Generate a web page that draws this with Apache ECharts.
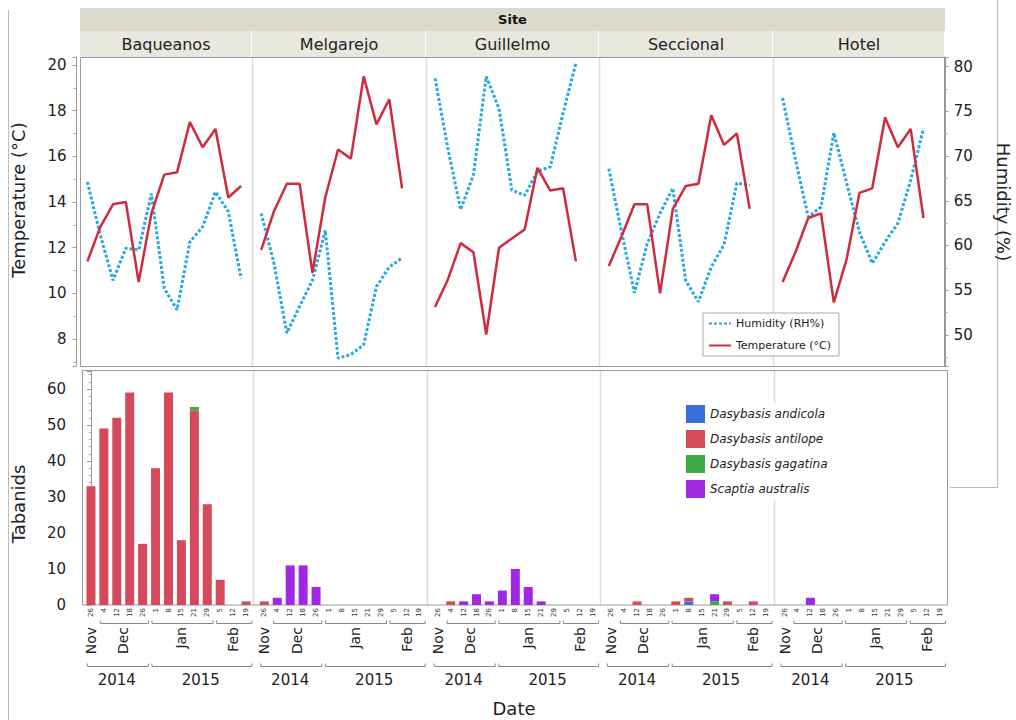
<!DOCTYPE html>
<html>
<head>
<meta charset="utf-8">
<title>Tabanids by site</title>
<script src="https://cdn.jsdelivr.net/npm/echarts@6.0.0/dist/echarts.min.js"></script>
<style>
  html, body { margin: 0; padding: 0; background: #fff; }
  #main { width: 1016px; height: 720px; }
</style>
</head>
<body>
<div id="main"></div>
<script>
/* 数据 */
var sites = ['Baqueanos', 'Melgarejo', 'Guillelmo', 'Seccional', 'Hotel'];
var dates = ['Nov 26', 'Dec 4', 'Dec 12', 'Dec 18', 'Dec 26', 'Jan 1', 'Jan 8', 'Jan 15', 'Jan 21', 'Jan 29', 'Feb 5', 'Feb 12', 'Feb 19'];
var monthNames = ['Nov', 'Dec', 'Jan', 'Feb'];
var monthFrom = [0, 1, 5, 10];
var monthTo = [0, 4, 9, 12];
var yearNames = ['2014', '2015'];
var yearFrom = [0, 5];
var yearTo = [4, 12];

var speciesNames = ['Dasybasis andicola', 'Dasybasis antilope', 'Dasybasis gagatina', 'Scaptia australis'];
var speciesColors = ['#3b6fdc', '#d44a5a', '#3dab44', '#a028e0'];

// temperature (°C), one row per site
var temperature = [
  [11.4, 12.9, 13.9, 14.0, 10.5, 13.5, 15.2, 15.3, 17.5, 16.4, 17.2, 14.2, 14.7],
  [11.9, 13.6, 14.8, 14.8, 10.9, 14.2, 16.3, 15.9, 19.5, 17.4, 18.5, 14.6],
  [9.4, 10.6, 12.2, 11.8, 8.2, 12.0, 12.4, 12.8, 15.5, 14.5, 14.6, 11.4],
  [11.2, 12.5, 13.9, 13.9, 10.0, 13.7, 14.7, 14.8, 17.8, 16.5, 17.0, 13.7],
  [10.5, 11.8, 13.3, 13.5, 9.6, 11.5, 14.4, 14.6, 17.7, 16.4, 17.2, 13.3]
];
// humidity (RH%)
var humidity = [
  [67.1, 61.2, 56.1, 59.7, 59.5, 65.8, 55.2, 52.8, 60.4, 62.1, 66.0, 63.8, 56.3],
  [63.6, 58.0, 50.2, 53.2, 56.1, 61.7, 47.4, 47.8, 48.9, 55.4, 57.6, 58.6],
  [78.7, 70.9, 64.0, 67.9, 78.9, 75.3, 66.2, 65.6, 68.3, 68.8, 74.8, 80.4],
  [68.6, 61.5, 54.7, 60.2, 63.6, 66.4, 56.1, 53.7, 57.6, 60.1, 67.0, 66.7],
  [76.5, 69.6, 63.2, 64.3, 72.6, 67.0, 61.5, 58.0, 60.4, 62.5, 67.3, 73.1]
];
// tabanid counts per species, one row per site
var andicola = [
  [0, 0, 0, 0, 0, 0, 0, 0, 0, 0, 0, 0, 0],
  [0, 0, 0, 0, 0, 0, 0, 0, 0, 0, 0, 0, 0],
  [0, 0, 0, 0, 0, 0, 0, 0, 0, 0, 0, 0, 0],
  [0, 0, 0, 0, 0, 0, 1, 0, 0, 0, 0, 0, 0],
  [0, 0, 0, 0, 0, 0, 0, 0, 0, 0, 0, 0, 0]
];
var antilope = [
  [33, 49, 52, 59, 17, 38, 59, 18, 54, 28, 7, 0, 1],
  [1, 0, 0, 0, 0, 0, 0, 0, 0, 0, 0, 0, 0],
  [0, 1, 0, 0, 0, 0, 0, 0, 0, 0, 0, 0, 0],
  [0, 0, 1, 0, 0, 1, 1, 0, 0, 1, 0, 1, 0],
  [0, 0, 0, 0, 0, 0, 0, 0, 0, 0, 0, 0, 0]
];
var gagatina = [
  [0, 0, 0, 0, 0, 0, 0, 0, 1, 0, 0, 0, 0],
  [0, 0, 0, 0, 0, 0, 0, 0, 0, 0, 0, 0, 0],
  [0, 0, 0, 0, 0, 0, 0, 0, 0, 0, 0, 0, 0],
  [0, 0, 0, 0, 0, 0, 0, 0, 1, 0, 0, 0, 0],
  [0, 0, 0, 0, 0, 0, 0, 0, 0, 0, 0, 0, 0]
];
var australis = [
  [0, 0, 0, 0, 0, 0, 0, 0, 0, 0, 0, 0, 0],
  [0, 2, 11, 11, 5, 0, 0, 0, 0, 0, 0, 0, 0],
  [0, 0, 1, 3, 1, 4, 10, 5, 1, 0, 0, 0, 0],
  [0, 0, 0, 0, 0, 0, 0, 0, 2, 0, 0, 0, 0],
  [0, 0, 2, 0, 0, 0, 0, 0, 0, 0, 0, 0, 0]
];
var speciesData = [andicola, antilope, gagatina, australis];

/* 布局 */
var panelEdges = [80, 252, 426, 599, 773, 945];
var topY = 57, topH = 309;
var botY = 371, botH = 234;
var font = 'DejaVu Sans';

var myEchart = echarts.init(document.getElementById('main'), null, { renderer: 'svg' });

var grids = [], xAxes = [], yAxes = [], series = [];

// 括号：月份和年份分组
var bracketData = [];
monthNames.forEach(function (m, k) {
  if (monthTo[k] > monthFrom[k]) bracketData.push([monthFrom[k], monthTo[k], 0]);
});
yearNames.forEach(function (y, k) {
  bracketData.push([yearFrom[k], yearTo[k], 1]);
});
var monthCenters = monthNames.map(function (m, k) { return (monthFrom[k] + monthTo[k]) / 2; });
var yearCenters = yearNames.map(function (y, k) { return (yearFrom[k] + yearTo[k]) / 2; });

sites.forEach(function (site, i) {
  /* 上面：温度和湿度 */
  var gTop = grids.length;
  grids.push({ left: 81 + i * 173.8, top: topY, width: 166.5, height: topH });
  var xTop = xAxes.length;
  xAxes.push({ type: 'category', gridIndex: gTop, data: dates, boundaryGap: true, show: false });
  var yT = yAxes.length;
  yAxes.push({
    type: 'value', gridIndex: gTop, position: 'left', offset: 4.5,
    min: 6.82, max: 20.35, splitNumber: 7, show: i === 0,
    axisLine: { show: true, lineStyle: { color: '#999' } },
    axisTick: { show: true, length: 4, lineStyle: { color: '#999' } },
    minorTick: { show: true, splitNumber: 2, length: 3, lineStyle: { color: '#aaa' } },
    axisLabel: {
      fontSize: 15, color: '#222', margin: 10, fontFamily: font,
      showMinLabel: false, showMaxLabel: false,
      formatter: function (v) { return v % 2 === 0 ? v : ''; }
    },
    splitLine: { show: false }
  });
  var yH = yAxes.length;
  yAxes.push({
    type: 'value', gridIndex: gTop, position: 'right', offset: 2,
    min: 46.52, max: 81.08, splitNumber: 7, show: i === 4,
    axisLine: { show: true, lineStyle: { color: '#999' } },
    axisTick: { show: true, length: 4, lineStyle: { color: '#999' } },
    minorTick: { show: true, splitNumber: 2, length: 3, lineStyle: { color: '#aaa' } },
    axisLabel: {
      fontSize: 15, color: '#222', margin: 9, fontFamily: font,
      showMinLabel: false, showMaxLabel: false,
      formatter: function (v) { return v % 5 === 0 ? v : ''; }
    },
    splitLine: { show: false }
  });
  series.push({
    name: 'Humidity (RH%)', type: 'line', xAxisIndex: xTop, yAxisIndex: yH,
    data: humidity[i], symbol: 'none', silent: true,
    lineStyle: { color: '#2aa8df', width: 3, type: [3, 2] }, itemStyle: { color: '#2aa8df' }
  });
  series.push({
    name: 'Temperature (°C)', type: 'line', xAxisIndex: xTop, yAxisIndex: yT,
    data: temperature[i], symbol: 'none', silent: true,
    lineStyle: { color: '#d12a3e', width: 2.5 }, itemStyle: { color: '#d12a3e' }
  });

  /* 下面：虻的数量 */
  var gBot = grids.length;
  grids.push({ left: 84.5 + i * 173.4, top: botY, width: 168, height: botH });
  var xDay = xAxes.length;
  xAxes.push({
    type: 'category', gridIndex: gBot, data: dates, position: 'bottom',
    axisLine: { show: false },
    axisTick: { show: false },
    axisLabel: {
      interval: 0, rotate: 90, fontSize: 7, color: '#333', margin: 3, fontFamily: font,
      formatter: function (v) { return v.split(' ')[1]; }
    }
  });
  xAxes.push({
    type: 'value', gridIndex: gBot, position: 'bottom', offset: 18, min: -0.5, max: 12.5,
    axisLine: { show: false }, axisTick: { show: false }, splitLine: { show: false },
    axisLabel: {
      customValues: monthCenters, rotate: 90, fontSize: 14, color: '#222', margin: 4, fontFamily: font,
      formatter: function (v) { return monthNames[monthCenters.indexOf(v)] || ''; }
    }
  });
  xAxes.push({
    type: 'value', gridIndex: gBot, position: 'bottom', offset: 63, min: -0.5, max: 12.5,
    axisLine: { show: false }, axisTick: { show: false }, splitLine: { show: false },
    axisLabel: {
      customValues: yearCenters, fontSize: 15, color: '#222', margin: 4, fontFamily: font,
      formatter: function (v) { return yearNames[yearCenters.indexOf(v)] || ''; }
    }
  });
  var yC = yAxes.length;
  yAxes.push({
    type: 'value', gridIndex: gBot, position: 'left', offset: 3.5,
    min: 0, max: 65, interval: 10, show: i === 0,
    axisLine: { show: true, lineStyle: { color: '#999' } },
    axisTick: { show: true, length: 4, lineStyle: { color: '#999' } },
    minorTick: { show: true, splitNumber: 5, length: 2, lineStyle: { color: '#aaa' } },
    axisLabel: {
      fontSize: 15, color: '#222', margin: 15, fontFamily: font,
      showMaxLabel: false,
      formatter: function (v) { return v % 10 === 0 ? v : ''; }
    },
    splitLine: { show: false }
  });
  speciesNames.forEach(function (sp, k) {
    series.push({
      name: sp, type: 'bar', stack: 'site' + i, xAxisIndex: xDay, yAxisIndex: yC,
      data: speciesData[k][i], barWidth: 9, silent: true,
      itemStyle: { color: speciesColors[k] }
    });
  });
  series.push({
    type: 'custom', xAxisIndex: xDay, yAxisIndex: yC, silent: true, clip: false,
    data: bracketData,
    renderItem: function (params, api) {
      var a = api.coord([api.value(0), 0]);
      var b = api.coord([api.value(1), 0]);
      var band = api.size([1, 0])[0];
      var y = Math.round(a[1] + (api.value(2) === 0 ? 18 : 61)) + 0.5;
      var x0 = a[0] - band * 0.28, x1 = b[0] + band * 0.45;
      return {
        type: 'polyline',
        shape: { points: [[x0, y - 3], [x0, y], [x1, y], [x1, y - 3]] },
        style: { stroke: '#888', fill: null, lineWidth: 1 }
      };
    }
  });
});

/* 标题条、边框和轴标题 */
var fullW = panelEdges[5] - panelEdges[0];
var graphics = [
  { type: 'rect', shape: { x: 80, y: 8, width: fullW, height: 23 }, style: { fill: '#dcdacd' } },
  { type: 'text', x: 80 + fullW / 2, y: 19.5, style: { text: 'Site', font: 'bold 13px "DejaVu Sans"', fill: '#111', align: 'center', verticalAlign: 'middle' } },
  { type: 'line', shape: { x1: 8.5, y1: 10, x2: 8.5, y2: 720 }, style: { stroke: '#bbb', lineWidth: 1 } },
  { type: 'polyline', shape: { points: [[997.5, 0], [997.5, 487.5], [950, 487.5]] }, style: { stroke: '#bbb', fill: null, lineWidth: 1 } },
  { type: 'text', x: 514, y: 708, style: { text: 'Date', font: '18px "DejaVu Sans"', fill: '#222', align: 'center', verticalAlign: 'middle' } },
  { type: 'text', x: 18, y: 200, rotation: Math.PI / 2, style: { text: 'Temperature (°C)', font: '18px "DejaVu Sans"', fill: '#222', align: 'center', verticalAlign: 'middle' } },
  { type: 'text', x: 1003, y: 202, rotation: -Math.PI / 2, style: { text: 'Humidity (%)', font: '18px "DejaVu Sans"', fill: '#222', align: 'center', verticalAlign: 'middle' } },
  { type: 'text', x: 18, y: 504, rotation: Math.PI / 2, style: { text: 'Tabanids', font: '18px "DejaVu Sans"', fill: '#222', align: 'center', verticalAlign: 'middle' } }
];
sites.forEach(function (site, i) {
  var l = panelEdges[i], r = panelEdges[i + 1];
  graphics.push({ type: 'rect', shape: { x: l, y: 31, width: r - l - 1, height: 26 }, style: { fill: '#e9e8e0' } });
  graphics.push({ type: 'text', x: (l + r) / 2, y: 44, style: { text: site, font: '16px "DejaVu Sans"', fill: '#222', align: 'center', verticalAlign: 'middle' } });
  if (i > 0) {
    graphics.push({ type: 'line', z: -1, shape: { x1: l + 0.5, y1: topY, x2: l + 0.5, y2: topY + topH }, style: { stroke: '#dcdcdc', lineWidth: 1.5 } });
    graphics.push({ type: 'line', z: -1, shape: { x1: l + 1.5, y1: botY, x2: l + 1.5, y2: botY + botH }, style: { stroke: '#dcdcdc', lineWidth: 1.5 } });
  }
});
graphics.push({ type: 'rect', shape: { x: 80.5, y: topY + 0.5, width: fullW, height: topH }, style: { fill: null, stroke: '#999', lineWidth: 1 }, silent: true });
graphics.push({ type: 'rect', shape: { x: 82.5, y: botY - 0.5, width: fullW, height: botH + 0.5 }, style: { fill: null, stroke: '#999', lineWidth: 1 }, silent: true });

var option = {
  animation: false,
  textStyle: { fontFamily: font },
  grid: grids,
  xAxis: xAxes,
  yAxis: yAxes,
  legend: [
    {
      data: ['Humidity (RH%)', 'Temperature (°C)'],
      orient: 'vertical', left: 703, top: 313,
      itemWidth: 22, itemHeight: 10, itemGap: 11,
      itemStyle: { opacity: 0 },
      backgroundColor: '#fff', borderColor: '#aaa', borderWidth: 1, borderRadius: 0,
      padding: [5, 8, 5, 5],
      textStyle: { fontSize: 11, color: '#222', fontFamily: font },
      selectedMode: false
    },
    {
      data: speciesNames,
      orient: 'vertical', left: 686, top: 403,
      icon: 'rect', itemWidth: 19, itemHeight: 18, itemGap: 7,
      backgroundColor: '#fff', padding: [2, 6, 2, 0],
      textStyle: { fontSize: 12, color: '#222', fontStyle: 'italic', fontFamily: font },
      selectedMode: false
    }
  ],
  graphic: graphics,
  series: series
};
myEchart.setOption(option);
window.addEventListener('resize', function () {
  myEchart.resize();
});
</script>
</body>
</html>
